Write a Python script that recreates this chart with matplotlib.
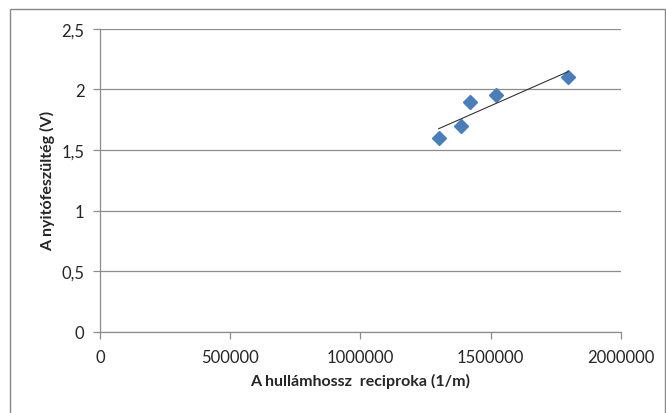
#!/usr/bin/env python3
"""
Nyitófeszültség a hullámhossz reciprokának függvényében
"""

import matplotlib
matplotlib.use('Agg')
import matplotlib.pyplot as plt
from matplotlib.patches import Rectangle
from matplotlib.ticker import FuncFormatter
import numpy as np

plt.rcParams['font.family'] = ['Lato', 'DejaVu Sans']

# Adatok (leolvasva)
reciprok = [1301000, 1385000, 1420000, 1520000, 1798000]
feszultseg = [1.6, 1.7, 1.9, 1.95, 2.1]

y_ticks = [0, 0.5, 1, 1.5, 2, 2.5]
x_ticks = [0, 500000, 1000000, 1500000, 2000000]

grid_color = '#8c8c8c'
marker_color = '#4a7ebb'

fig = plt.figure(figsize=(6.66, 4.14), dpi=100)
ax = fig.add_axes([0.150, 0.196, 0.782, 0.732])

# Pontok
ax.plot(reciprok, feszultseg, linestyle='none', marker='D', markersize=7.3,
        color=marker_color, markeredgecolor=marker_color, zorder=3)

# Lineáris trendvonal
a, b = np.polyfit(reciprok, feszultseg, 1)
xs = np.array([min(reciprok), max(reciprok)])
ax.plot(xs, a * xs + b, color='#333333', linewidth=0.8, zorder=4)

ax.set_xlim(0, 2000000)
ax.set_ylim(0, 2.5)
ax.set_xticks(x_ticks)
ax.set_yticks(y_ticks)
ax.yaxis.set_major_formatter(FuncFormatter(lambda v, p: f'{v:g}'.replace('.', ',')))
ax.xaxis.set_major_formatter(FuncFormatter(lambda v, p: f'{int(v)}'))

ax.grid(True, axis='y', color=grid_color, linewidth=0.9)
ax.set_axisbelow(True)
for s in ['top', 'right']:
    ax.spines[s].set_visible(False)
for s in ['left', 'bottom']:
    ax.spines[s].set_color(grid_color)
    ax.spines[s].set_linewidth(0.9)

ax.tick_params(axis='both', colors=grid_color, length=5, width=0.9,
               labelcolor='#262626', labelsize=12)
ax.tick_params(axis='x', pad=7)
ax.tick_params(axis='y', pad=6)

ax.set_xlabel('A hullámhossz  reciproka (1/m)', fontsize=11.5, fontweight='bold',
              color='#262626', labelpad=6)
ax.set_ylabel('A nyitófeszültég (V)', fontsize=11.5, fontweight='bold',
              color='#262626', labelpad=5)

# Diagram kerete
fig.patches.append(Rectangle((10 / 666, -0.05), 655 / 666, 1.05 - 10 / 414,
                             transform=fig.transFigure, fill=False,
                             edgecolor='#868686', linewidth=1.0))

plt.savefig('out.png', dpi=100, facecolor='white')
